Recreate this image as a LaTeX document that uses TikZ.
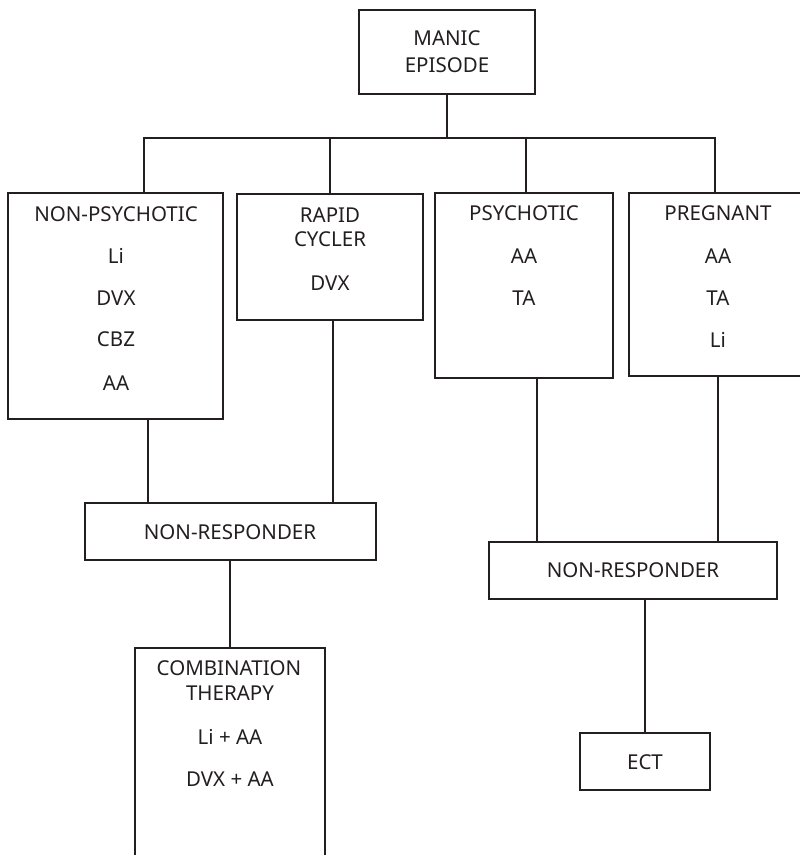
\documentclass[tikz,border=0pt]{standalone}
\usepackage{fontspec}
\setmainfont{Noto Sans}
\definecolor{ink}{HTML}{231F20}
\begin{document}
\begin{tikzpicture}[x=1pt,y=-1pt,
  box/.style={draw=ink, line width=1.3pt, rectangle, inner sep=0pt, fill=none},
  lbl/.style={anchor=base, inner sep=0pt, text=ink, font=\fontsize{20.5}{24}\selectfont},
  link/.style={draw=ink, line width=1.3pt}]
\useasboundingbox (0,0) rectangle (800,855);
% boxes
\node[box, minimum width=176pt, minimum height=84pt] (top) at (447,52) {};
\node[box, minimum width=215pt, minimum height=226pt] (np) at (115.5,306) {};
\node[box, minimum width=186pt, minimum height=126pt] (rc) at (330,257) {};
\node[box, minimum width=178pt, minimum height=185pt] (ps) at (524,285.5) {};
\node[box, minimum width=178pt, minimum height=183pt] (pg) at (718,284.5) {};
\node[box, minimum width=291pt, minimum height=57pt] (nra) at (230.5,531.5) {};
\node[box, minimum width=288pt, minimum height=57pt] (nrb) at (633,570.5) {};
\node[box, minimum width=190pt, minimum height=240pt] (comb) at (230,768) {};
\node[box, minimum width=130pt, minimum height=57pt] (ect) at (645,761.5) {};
% texts
\node[lbl] (t1) at (447,45) {MANIC};
\node[lbl] (t2) at (447,72) {EPISODE};
\node[lbl] (t3) at (116,221) {NON-PSYCHOTIC};
\node[lbl] (t4) at (116,263) {Li};
\node[lbl] (t5) at (116,305) {DVX};
\node[lbl] (t6) at (116,346) {CBZ};
\node[lbl] (t7) at (116,390) {AA};
\node[lbl] (t8) at (330,222) {RAPID};
\node[lbl] (t9) at (330,246) {CYCLER};
\node[lbl] (t10) at (330,290) {DVX};
\node[lbl] (t11) at (524,220) {PSYCHOTIC};
\node[lbl] (t12) at (524,263) {AA};
\node[lbl] (t13) at (524,305) {TA};
\node[lbl] (t14) at (718,220) {PREGNANT};
\node[lbl] (t15) at (718,263) {AA};
\node[lbl] (t16) at (718,305) {TA};
\node[lbl] (t17) at (718,347) {Li};
\node[lbl] (t18) at (230,539) {NON-RESPONDER};
\node[lbl] (t19) at (633,577) {NON-RESPONDER};
\node[lbl] (t20) at (229,675) {COMBINATION};
\node[lbl] (t21) at (230,700) {THERAPY};
\node[lbl] (t22) at (230,744) {Li + AA};
\node[lbl] (t23) at (230,786) {DVX + AA};
\node[lbl] (t24) at (645,769) {ECT};
% connectors
\coordinate (j) at (447,138);
\path[link] (top.south) -- (j);
\path[link] (np.north -| 144,0) |- (j) -| (pg.north -| 715,0);
\path[link] (rc.north) -- (rc.north |- j);
\path[link] (ps.north -| 526,0) -- (j -| 526,0);
\path[link] (np.south -| 148,0) -- (nra.north -| 148,0);
\path[link] (rc.south -| 333,0) -- (nra.north -| 333,0);
\path[link] (ps.south -| 537,0) -- (nrb.north -| 537,0);
\path[link] (pg.south) -- (nrb.north -| pg.south);
\path[link] (nra.south -| comb.north) -- (comb.north);
\path[link] (nrb.south -| ect.north) -- (ect.north);
\end{tikzpicture}
\end{document}
